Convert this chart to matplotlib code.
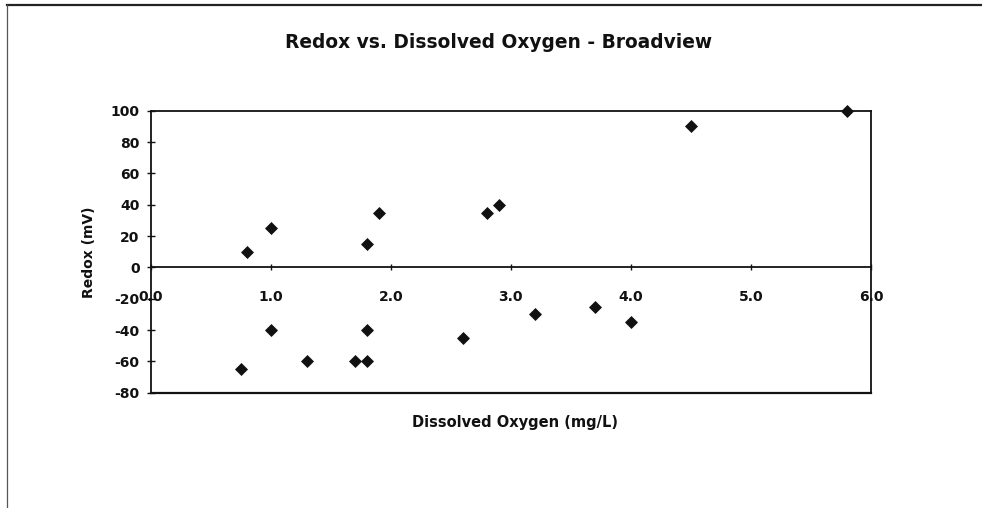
import matplotlib
matplotlib.use("Agg")
import matplotlib.pyplot as plt
from matplotlib.lines import Line2D

# Data
dissolved_oxygen = [0.8, 1.0, 1.8, 1.9, 2.8, 2.9, 4.5, 5.8,
                    0.75, 1.0, 1.3, 1.7, 1.8, 1.8, 2.6, 3.2, 3.7, 4.0]
redox = [10, 25, 15, 35, 35, 40, 90, 100,
         -65, -40, -60, -60, -60, -40, -45, -30, -25, -35]

x_ticks = [0.0, 1.0, 2.0, 3.0, 4.0, 5.0, 6.0]
x_tick_labels = ["0.0", "1.0", "2.0", "3.0", "4.0", "5.0", "6.0"]
y_ticks = [-80, -60, -40, -20, 0, 20, 40, 60, 80, 100]
y_tick_labels = ["-80", "-60", "-40", "-20", "0", "20", "40", "60", "80", "100"]

title = "Redox vs. Dissolved Oxygen - Broadview"
x_label = "Dissolved Oxygen (mg/L)"
y_label = "Redox (mV)"

plt.rcParams['font.family'] = ['DejaVu Sans']
plt.rcParams['font.weight'] = 'bold'

W, H = 982, 508
fig = plt.figure(figsize=(W / 100, H / 100), dpi=100)
fig.patch.set_facecolor('white')

ink = '#111111'

# Outer chart border (top and left visible)
fig.add_artist(Line2D([7 / W, 1.0], [1 - 5 / H, 1 - 5 / H], color='#222222', lw=1.6,
                      transform=fig.transFigure))
fig.add_artist(Line2D([7 / W, 7 / W], [1 - 5 / H, 0.0], color='#555555', lw=0.9,
                      transform=fig.transFigure))

left, right = 150.7 / W, 871 / W
bottom, top = 1 - 392.7 / H, 1 - 110.7 / H
ax = fig.add_axes([left, bottom, right - left, top - bottom])

ax.scatter(dissolved_oxygen, redox, marker='D', s=44, color=ink, zorder=5,
           clip_on=False, linewidths=0)

ax.set_xlim(0, 6)
ax.set_ylim(-80, 100)

for s in ['left', 'right', 'top', 'bottom']:
    ax.spines[s].set_color(ink)
    ax.spines[s].set_linewidth(1.3)
ax.spines['bottom'].set_position(('data', 0))
ax.axhline(-80, color=ink, lw=1.6, clip_on=False, zorder=4)

ax.set_xticks(x_ticks)
ax.set_xticklabels(x_tick_labels)
ax.set_yticks(y_ticks)
ax.set_yticklabels(y_tick_labels)

ax.tick_params(axis='x', direction='inout', length=4, width=1, color=ink,
               pad=14, labelsize=10, labelcolor=ink)
ax.tick_params(axis='y', direction='inout', length=6, width=1, color=ink,
               pad=5, labelsize=10, labelcolor=ink)
for lbl in ax.get_xticklabels() + ax.get_yticklabels():
    lbl.set_fontweight('bold')

fig.text(499 / W, 1 - 43 / H, title, ha='center', va='center',
         fontsize=13.4, fontweight='bold', color=ink)
fig.text(515 / W, 1 - 423 / H, x_label, ha='center', va='center',
         fontsize=10.5, fontweight='bold', color=ink)
fig.text(89 / W, 1 - 252 / H, y_label, ha='center', va='center', rotation=90,
         fontsize=10, fontweight='bold', color=ink)

fig.savefig('out.png', dpi=100, facecolor='white')
